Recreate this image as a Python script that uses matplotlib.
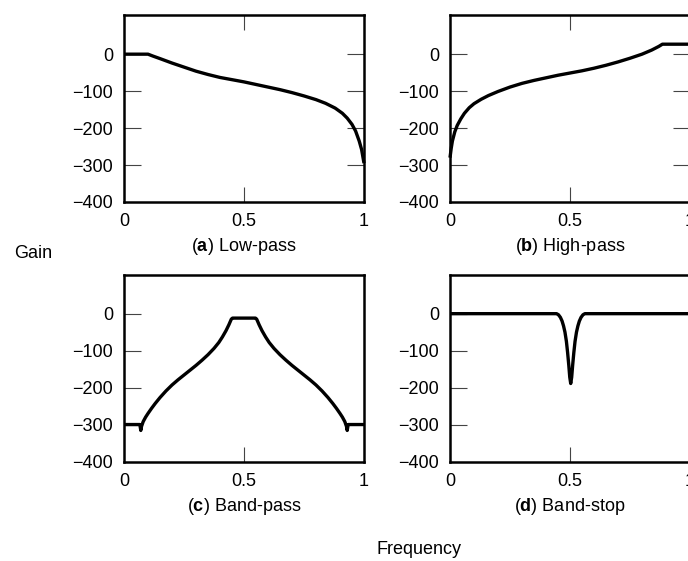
import matplotlib
matplotlib.use('Agg')
import matplotlib.pyplot as plt

plt.rcParams['font.family'] = ['Liberation Sans', 'DejaVu Sans']
plt.rcParams['mathtext.fontset'] = 'custom'
plt.rcParams['mathtext.rm'] = 'Liberation Sans'
plt.rcParams['mathtext.bf'] = 'Liberation Sans:bold'

# ── Data ──────────────────────────────────────────────────────────────────────
lp_x = [0, 0.10, 0.12, 0.15, 0.20, 0.25, 0.30, 0.35, 0.40, 0.45, 0.50, 0.55,
        0.60, 0.65, 0.70, 0.75, 0.80, 0.84, 0.88, 0.91, 0.93, 0.95, 0.965,
        0.98, 0.99, 1.0]
lp_y = [0, 0, -5, -12, -24, -35, -46, -55, -63, -69, -75, -82,
        -89, -96, -104, -113, -123, -133, -146, -160, -173, -190, -208,
        -235, -258, -295]

hp_x = [0, 0.005, 0.01, 0.02, 0.03, 0.045, 0.06, 0.08, 0.10, 0.13, 0.16, 0.20,
        0.25, 0.30, 0.35, 0.40, 0.45, 0.50, 0.55, 0.60, 0.65, 0.70, 0.75,
        0.80, 0.84, 0.87, 0.885, 1.0]
hp_y = [-280, -255, -235, -210, -193, -175, -160, -145, -134, -122, -112, -101,
        -89, -79, -71, -64, -57, -51, -45, -38, -30, -21, -11,
        0, 11, 21, 27, 27]

bp_x = [0, 0.066, 0.070, 0.073, 0.080, 0.090, 0.100, 0.115, 0.130, 0.150,
        0.175, 0.200, 0.225, 0.250, 0.275, 0.300, 0.325, 0.350, 0.375, 0.395,
        0.410, 0.425, 0.437, 0.447, 0.452, 0.548, 0.553, 0.563, 0.575, 0.590,
        0.605, 0.625, 0.650, 0.675, 0.700, 0.725, 0.750, 0.775, 0.800, 0.825,
        0.850, 0.870, 0.885, 0.900, 0.910, 0.920, 0.927, 0.930, 0.934, 1.0]
bp_y = [-300, -300, -316, -305, -292, -280, -270, -256, -243, -227,
        -209, -193, -179, -166, -153, -140, -126, -111, -94, -78,
        -63, -46, -30, -15, -12, -12, -15, -30, -46, -63,
        -78, -94, -111, -126, -140, -153, -166, -179, -193, -209,
        -227, -243, -256, -270, -280, -292, -305, -316, -300, -300]

bs_x = [0, 0.444, 0.452, 0.460, 0.467, 0.473, 0.479, 0.485, 0.490, 0.495,
        0.499, 0.503, 0.507, 0.511, 0.516, 0.521, 0.527, 0.533, 0.539, 0.546,
        0.554, 0.562, 1.0]
bs_y = [0, 0, -3, -10, -20, -33, -50, -75, -105, -140,
        -172, -189, -172, -140, -105, -75, -50, -33, -20, -10,
        -3, 0, 0]

panels = [
    ('a', 'Low-pass', lp_x, lp_y),
    ('b', 'High-pass', hp_x, hp_y),
    ('c', 'Band-pass', bp_x, bp_y),
    ('d', 'Band-stop', bs_x, bs_y),
]

W, H = 688, 561
fig = plt.figure(figsize=(W / 100, H / 100), dpi=100)

# axes boxes in pixels: left, top, width, height
boxes = [(124, 15, 240, 187), (450, 15, 240, 187),
         (124, 274.5, 240, 187), (450, 274.5, 240, 187)]

for i, ((letter, name, xs, ys), (l, t, w, h)) in enumerate(zip(panels, boxes)):
    ax = fig.add_axes([l / W, 1 - (t + h) / H, w / W, h / H])
    ax.plot(xs, ys, color='black', linewidth=2.4, solid_joinstyle='round',
            solid_capstyle='butt', clip_on=False)
    ax.set_xlim(0, 1)
    ax.set_ylim(-400, 106)
    ax.set_xticks([0, 0.5, 1])
    ax.set_xticklabels(['0', '0.5', '1'])
    ax.set_yticks([0, -100, -200, -300, -400])
    ax.set_yticklabels(['0', '\u2212100', '\u2212200', '\u2212300', '\u2212400'])
    top_row = i < 2
    ax.tick_params(direction='in', length=11, width=0.8, color='#444444',
                   labelsize=13, pad=8, top=top_row, right=top_row)
    ax.tick_params(axis='y', length=12)
    # no tick mark at the axis corners
    for tk in ax.yaxis.get_major_ticks()[-1:]:
        tk.tick1line.set_visible(False)
        tk.tick2line.set_visible(False)
    for tk in [ax.xaxis.get_major_ticks()[0], ax.xaxis.get_major_ticks()[-1]]:
        tk.tick1line.set_visible(False)
        tk.tick2line.set_visible(False)
    for sp in ax.spines.values():
        sp.set_linewidth(1.8)
    ax.text(0.5, -0.24, r'($\mathbf{%s}$) %s' % (letter, name),
            transform=ax.transAxes, ha='center', va='center', fontsize=13)

fig.text(33 / W, 1 - 254 / H, 'Gain', ha='center', va='center', fontsize=13)
fig.text(419 / W, 1 - 549 / H, 'Frequency', ha='center', va='center', fontsize=13)

fig.savefig('out.png', dpi=100)
